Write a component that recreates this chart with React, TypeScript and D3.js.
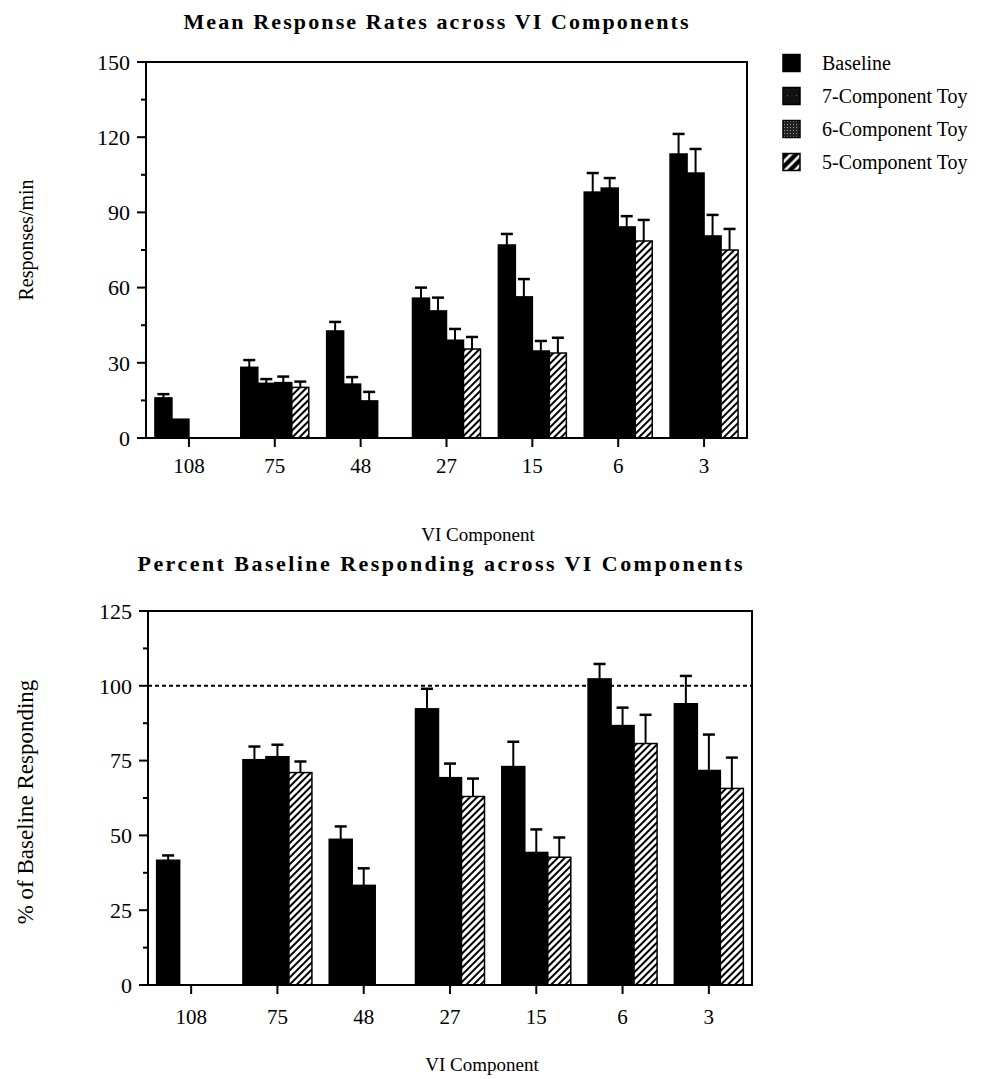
import React from "react";
import * as d3 from "d3";

const categories = ["108", "75", "48", "27", "15", "6", "3"];
const seriesTop = ["Baseline", "7-Component Toy", "6-Component Toy", "5-Component Toy"];
const seriesBottom = ["7-Component Toy", "6-Component Toy", "5-Component Toy"];

// Mean response rates (responses/min) and top of error bar
const baselineRate = [16, 28.2, 42.7, 55.8, 77, 98.1, 113.3];
const baselineRateErr = [17.5, 31.1, 46.3, 60, 81.4, 105.7, 121.3];
const toy7Rate = [7.5, 21.8, 21.5, 50.7, 56.3, 99.7, 105.7];
const toy7RateErr = [null, 23.5, 24.3, 56, 63.4, 103.7, 115.3];
const toy6Rate = [null, 22.1, 14.8, 39, 34.7, 84.2, 80.6];
const toy6RateErr = [null, 24.5, 18.4, 43.5, 38.7, 88.5, 89];
const toy5Rate = [null, 20.2, null, 35.5, 33.9, 78.6, 75];
const toy5RateErr = [null, 22.5, null, 40.3, 40, 87, 83.4];

// Percent of baseline responding and top of error bar
const toy7Pct = [41.7, 75.3, 48.7, 92.3, 73, 102.3, 94];
const toy7PctErr = [43.3, 79.7, 53, 99, 81.3, 107.3, 103.3];
const toy6Pct = [null, 76.3, 33.3, 69.3, 44.3, 86.7, 71.7];
const toy6PctErr = [null, 80.3, 39, 74, 52, 92.7, 83.7];
const toy5Pct = [null, 71, null, 63, 42.7, 80.7, 65.7];
const toy5PctErr = [null, 74.7, null, 69, 49.3, 90.3, 76];

const topTicks = [0, 15, 30, 45, 60, 75, 90, 105, 120, 135, 150];
const topLabels = [0, 30, 60, 90, 120, 150];
const bottomTicks = [0, 12.5, 25, 37.5, 50, 62.5, 75, 87.5, 100, 112.5, 125];
const bottomLabels = [0, 25, 50, 75, 100, 125];

const FONT = "'Liberation Serif', 'Times New Roman', serif";

type Series = { name: string; values: (number | null)[]; errs: (number | null)[]; fill: string };

function Panel(props: {
  left: number; right: number; top: number; bottom: number;
  domainMax: number; ticks: number[]; labels: number[];
  series: Series[]; groupWidth: number; refLine?: number;
  title: string; titleX: number; titleY: number; titleLen: number;
  yLabel: string; yLabelX: number; yLabelY: number; yLabelSize: number;
  xLabelX: number; xLabelY: number; tickLabelY: number;
}) {
  const p = props;
  const x = d3.scaleBand<string>().domain(categories).range([p.left, p.right]).padding(0);
  const inner = d3.scaleBand<string>().domain(p.series.map((s) => s.name)).range([0, p.groupWidth]).padding(0);
  const y = d3.scaleLinear().domain([0, p.domainMax]).range([p.bottom, p.top]);
  const off = (x.bandwidth() - p.groupWidth) / 2;
  const bw = inner.bandwidth();
  return (
    <g>
      <text x={p.titleX} y={p.titleY} textAnchor="middle" fontFamily={FONT} fontWeight="bold" fontSize={22}
        textLength={p.titleLen} lengthAdjust="spacing">{p.title}</text>
      {p.series.map((s) =>
        categories.map((c, i) => {
          const v = s.values[i];
          if (v == null) return null;
          const bx = (x(c) as number) + off + (inner(s.name) as number);
          return (
            <rect key={s.name + c} x={bx} y={y(v)} width={bw} height={y(0) - y(v)}
              fill={s.fill} stroke="#000" strokeWidth={1.5} />
          );
        })
      )}
      {p.series.map((s) =>
        categories.map((c, i) => {
          const v = s.values[i];
          const e = s.errs[i];
          if (v == null || e == null) return null;
          const cx = (x(c) as number) + off + (inner(s.name) as number) + bw / 2;
          return (
            <g key={"e" + s.name + c} stroke="#000" strokeWidth={2}>
              <line x1={cx} x2={cx} y1={y(v)} y2={y(e)} />
              <line x1={cx - 6} x2={cx + 6} y1={y(e)} y2={y(e)} strokeWidth={2.5} />
            </g>
          );
        })
      )}
      {p.refLine != null && (
        <line x1={p.left} x2={p.right} y1={y(p.refLine)} y2={y(p.refLine)} stroke="#000" strokeWidth={2}
          strokeDasharray="4,3" />
      )}
      <rect x={p.left} y={p.top} width={p.right - p.left} height={p.bottom - p.top} fill="none" stroke="#000" strokeWidth={2} />
      {p.ticks.map((t) => {
        const major = p.labels.includes(t);
        return <line key={"yt" + t} x1={p.left - (major ? 9 : 5)} x2={p.left} y1={y(t)} y2={y(t)} stroke="#000" strokeWidth={2} />;
      })}
      {p.labels.map((t) => (
        <text key={"yl" + t} x={p.left - 16} y={y(t)} dy="0.35em" textAnchor="end" fontFamily={FONT} fontSize={22}>{t}</text>
      ))}
      {categories.map((c) => {
        const cx = (x(c) as number) + x.bandwidth() / 2;
        return (
          <g key={"xt" + c}>
            <line x1={cx} x2={cx} y1={p.bottom} y2={p.bottom + 9} stroke="#000" strokeWidth={2} />
            <text x={cx} y={p.tickLabelY} textAnchor="middle" fontFamily={FONT} fontSize={21}>{c}</text>
          </g>
        );
      })}
      <text x={p.xLabelX} y={p.xLabelY} textAnchor="middle" fontFamily={FONT} fontSize={19}>VI Component</text>
      <text transform={`translate(${p.yLabelX},${p.yLabelY}) rotate(-90)`} textAnchor="middle" fontFamily={FONT}
        fontSize={p.yLabelSize}>{p.yLabel}</text>
    </g>
  );
}

export default function App() {
  const topSeries: Series[] = [
    { name: seriesTop[0], values: baselineRate, errs: baselineRateErr, fill: "#000" },
    { name: seriesTop[1], values: toy7Rate, errs: toy7RateErr, fill: "#000" },
    { name: seriesTop[2], values: toy6Rate, errs: toy6RateErr, fill: "#000" },
    { name: seriesTop[3], values: toy5Rate, errs: toy5RateErr, fill: "url(#hatch)" },
  ];
  const bottomSeries: Series[] = [
    { name: seriesBottom[0], values: toy7Pct, errs: toy7PctErr, fill: "#000" },
    { name: seriesBottom[1], values: toy6Pct, errs: toy6PctErr, fill: "#000" },
    { name: seriesBottom[2], values: toy5Pct, errs: toy5PctErr, fill: "url(#hatch)" },
  ];
  const legendFills = ["#000", "url(#speck)", "url(#stipple)", "url(#hatchL)"];
  const legendY = d3.scalePoint<string>().domain(seriesTop).range([63, 162]);
  return (
    <svg width={996} height={1079} style={{ display: "block", margin: 0, position: "absolute", left: 0, top: 0 }}>
      <defs>
        <pattern id="hatch" patternUnits="userSpaceOnUse" width={5} height={5} patternTransform="rotate(45)">
          <rect width={5} height={5} fill="#fff" />
          <line x1={0} y1={0} x2={0} y2={5} stroke="#000" strokeWidth={4} />
        </pattern>
        <pattern id="hatchL" patternUnits="userSpaceOnUse" width={7} height={7} patternTransform="rotate(45)">
          <rect width={7} height={7} fill="#000" />
          <line x1={3.5} y1={0} x2={3.5} y2={7} stroke="#fff" strokeWidth={2.5} />
        </pattern>
        <pattern id="speck" patternUnits="userSpaceOnUse" width={9} height={9}>
          <rect width={9} height={9} fill="#111" />
          <rect x={4} y={5} width={1} height={1} fill="#666" />
        </pattern>
        <pattern id="stipple" patternUnits="userSpaceOnUse" width={3} height={3}>
          <rect width={3} height={3} fill="#222" />
          <rect x={1} y={1} width={1} height={1} fill="#999" />
        </pattern>
      </defs>
      <Panel left={146} right={747} top={62} bottom={438} domainMax={150} ticks={topTicks} labels={topLabels}
        series={topSeries} groupWidth={68} title="Mean Response Rates across VI Components"
        titleX={436} titleY={29} titleLen={505} yLabel="Responses/min" yLabelX={33} yLabelY={240} yLabelSize={20}
        xLabelX={478} xLabelY={541} tickLabelY={473} />
      <Panel left={148} right={752} top={611} bottom={985} domainMax={125} ticks={bottomTicks} labels={bottomLabels}
        series={bottomSeries} groupWidth={69} refLine={100} title="Percent Baseline Responding across VI Components"
        titleX={440} titleY={571} titleLen={605} yLabel="% of Baseline Responding" yLabelX={33} yLabelY={802}
        yLabelSize={23} xLabelX={482} xLabelY={1071} tickLabelY={1024} />
      {seriesTop.map((s, i) => (
        <g key={"lg" + s}>
          <rect x={783} y={(legendY(s) as number) - 8.5} width={17} height={17} fill={legendFills[i]} stroke="#000" strokeWidth={1.5} />
          <text x={822} y={legendY(s)} dy="0.35em" fontFamily={FONT} fontSize={20}>{s}</text>
        </g>
      ))}
    </svg>
  );
}
